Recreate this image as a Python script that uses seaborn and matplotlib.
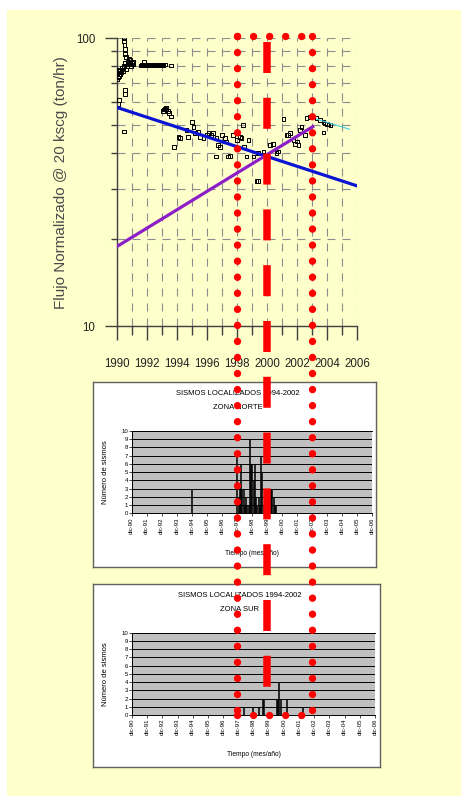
# Flujo normalizado vs. sismicidad (zona norte / zona sur)
import pandas as pd
import matplotlib
matplotlib.use("Agg")
import matplotlib.pyplot as plt
import matplotlib.transforms as mtransforms
from matplotlib.lines import Line2D
from matplotlib.patches import Rectangle
from matplotlib.ticker import MultipleLocator, FixedLocator, NullFormatter, FuncFormatter
from matplotlib import font_manager
import seaborn as sns

# -----------------------------
# Data: normalized flow (scatter)
# -----------------------------
flow_years = [
    1990.02, 1990.05, 1990.08, 1990.10, 1990.12, 1990.15, 1990.18, 1990.20,
    1990.25, 1990.30, 1990.35, 1990.40, 1990.45, 1990.45, 1990.48, 1990.50,
    1990.52, 1990.55, 1990.55, 1990.60, 1990.60, 1990.65, 1990.70, 1990.75,
    1990.80, 1990.85, 1990.90, 1990.95, 1991.00, 1991.05, 1991.10, 1990.53,
    1990.55, 1990.12, 1990.08, 1990.47, 1990.02,
    1991.60, 1991.68, 1991.75, 1991.80, 1991.82, 1991.90, 1991.97, 1992.05,
    1992.12, 1992.20, 1992.27, 1992.35, 1992.42, 1992.50, 1992.57, 1992.65,
    1992.72, 1992.80, 1992.87, 1992.95, 1993.02, 1993.10, 1993.18, 1993.60,
    1993.05, 1993.12, 1993.20, 1993.25, 1993.30, 1993.38, 1993.45, 1993.58,
    1993.82, 1994.09, 1994.20, 1994.64, 1994.75, 1994.98, 1995.10, 1995.20,
    1995.42, 1995.53, 1995.76, 1995.98, 1996.10, 1996.30, 1996.42, 1996.64,
    1996.75, 1996.87, 1996.60, 1996.98, 1997.20, 1997.30, 1997.42, 1997.53,
    1997.75, 1997.98, 1998.20, 1998.30, 1998.40, 1998.47, 1998.64, 1998.76,
    1999.09, 1999.31, 1999.42, 1999.42, 1999.76, 2000.20, 2000.42, 2000.64,
    2000.75, 2001.09, 2001.31, 2001.42, 2001.53, 2001.76, 2001.87, 2001.98,
    2002.10, 2002.20, 2002.31, 2002.53, 2002.64, 2002.87, 2003.31, 2003.53,
    2003.76, 2003.87, 2003.98, 2004.09, 2004.24, 2003.76,
]
flow_values = [
    75, 77, 73, 76, 74, 78, 75, 77,
    76, 78, 79, 77, 80, 98, 100, 95,
    92, 88, 82, 86, 78, 80, 83, 81,
    85, 82, 84, 80, 82, 81, 83, 66,
    64, 61, 59, 47.4, 72,
    80.5, 81, 80.5, 83, 80.5, 81, 80.5, 81,
    80.5, 80.5, 81, 80.5, 80.5, 81, 80.5, 80.5,
    81, 80.5, 80.5, 81, 80.5, 80.5, 81, 80.5,
    56, 56.5, 57, 57.5, 56.5, 56, 55, 53.5,
    42, 45.5, 45, 48, 45.5, 51.3, 49.3, 46.8,
    47.4, 45.5, 45, 46, 46.8, 46, 46.8, 45,
    42.5, 42, 38.8, 46, 45, 43.8, 38.8, 39,
    46, 44.4, 45.5, 45, 50, 42, 38.8, 44.4,
    38.8, 32, 31.9, 40, 40.4, 42.5, 43, 40,
    40.4, 52.3, 46, 46, 46.8, 44.4, 43, 43.8,
    42.5, 48, 49.3, 46, 52.7, 53.4, 52.7, 52,
    51.3, 50.6, 50.4, 50.2, 50, 47,
]

# trend lines (end points)
trend_down_years = [1990, 2006]
trend_down_values = [57.5, 30.7]
trend_up_years = [1990, 2003.05]
trend_up_values = [18.9, 49.3]
trend_recent_years = [2003.3, 2005.5]
trend_recent_values = [52.4, 48.3]

# marked years (red overlay)
window_years = [1998, 2003]
midline_year = 2000

# -----------------------------
# Data: located earthquakes (months after dic-90)
# -----------------------------
north_months = [48, 84, 85, 86, 87, 88, 89, 90, 91, 92, 93, 94, 95, 96, 97,
                98, 99, 100, 101, 102, 103, 104, 105, 106, 107, 108, 109,
                110, 111, 112, 113, 114, 115]
north_counts = [3, 7, 2, 3, 6, 3, 3, 1, 2, 1, 1, 9, 6, 6, 4,
                6, 2, 1, 2, 1, 7, 5, 1, 1, 2, 2, 3,
                3, 3, 3, 2, 1, 1]
south_months = [88, 95, 100, 103, 104, 114, 115, 116, 117, 122, 135]
south_counts = [1, 1, 1, 2, 2, 2, 2, 4, 2, 2, 1]

month_labels = ["dic-90", "dic-91", "dic-92", "dic-93", "dic-94", "dic-95",
                "dic-96", "dic-97", "dic-98", "dic-99", "dic-00", "dic-01",
                "dic-02", "dic-03", "dic-04", "dic-05", "dic-06"]

# -----------------------------
# Fonts
# -----------------------------
plt.rcParams["font.family"] = ["Liberation Sans", "DejaVu Sans"]
names = {f.name for f in font_manager.fontManager.ttflist}
if "Liberation Sans Narrow" in names:
    tick_font, tick_size = "Liberation Sans Narrow", 10
else:
    tick_font, tick_size = "Liberation Sans", 8.3

W, H = 461, 796
BG = "#ffffcc"

fig = plt.figure(figsize=(W / 100, H / 100), dpi=100)
fig.patch.set_facecolor("white")
fig.add_artist(Rectangle((7 / W, 0), 1, (H - 10) / H, transform=fig.transFigure,
                         facecolor=BG, edgecolor="none", zorder=-5))

# -----------------------------
# Top chart: flow
# -----------------------------
ax = fig.add_axes([117 / W, (H - 326) / H, 240 / W, 287.7 / H])
ax.set_facecolor("none")

sns.scatterplot(x=flow_years, y=flow_values, marker="s", s=7,
                facecolor="none", edgecolor="black", linewidth=0.7,
                ax=ax, zorder=3)
sns.lineplot(x=trend_down_years, y=trend_down_values, color="#0a14d2",
             lw=2.3, ax=ax, zorder=4)
sns.lineplot(x=trend_up_years, y=trend_up_values, color="#8c1ec8",
             lw=2.3, ax=ax, zorder=4)
sns.lineplot(x=trend_recent_years, y=trend_recent_values, color="#40d0e0",
             lw=0.8, ax=ax, zorder=4)

ax.set_yscale("log")
ax.set_xlim(1990, 2006)
ax.set_ylim(10, 100)
ax.xaxis.set_major_locator(MultipleLocator(2))
ax.xaxis.set_minor_locator(MultipleLocator(1))
ax.xaxis.set_major_formatter(FuncFormatter(lambda v, p: f"{int(round(v))}"))
ax.yaxis.set_major_locator(FixedLocator([10, 100]))
ax.yaxis.set_minor_locator(FixedLocator([20, 30, 40, 50, 60, 70, 80, 90]))
ax.yaxis.set_major_formatter(FuncFormatter(lambda v, p: f"{v:g}"))
ax.yaxis.set_minor_formatter(NullFormatter())

ax.grid(True, which="both", axis="both", color="#8c8c8c", lw=0.8,
        ls=(0, (7.2, 6.3)))
for s in ["top", "right"]:
    ax.spines[s].set_visible(False)
for s in ["left", "bottom"]:
    ax.spines[s].set_color("#404040")
    ax.spines[s].set_linewidth(1.0)

ax.tick_params(axis="x", which="major", length=10, width=1, color="#404040",
               pad=13, labelsize=tick_size, labelcolor="#222222",
               labelfontfamily=tick_font)
ax.tick_params(axis="x", which="minor", length=6.5, width=1, color="#404040")
ax.tick_params(axis="y", which="major", length=8.6, width=1, color="#404040",
               pad=7, labelsize=tick_size, labelcolor="#222222",
               labelfontfamily=tick_font)
ax.tick_params(axis="y", which="minor", length=4, width=1, color="#404040")
ax.set_xlabel("")
ax.set_ylabel("Flujo Normalizado @ 20 kscg (ton/hr)", fontsize=11,
              color="#4a4a4a")
ax.yaxis.set_label_coords(-0.204, 0.5)


# -----------------------------
# Bottom charts: earthquakes
# -----------------------------
def seismic_panel(box_rect, plot_rect, months, counts, zone):
    box = fig.add_axes(box_rect)
    box.set_xticks([])
    box.set_yticks([])
    box.set_facecolor("white")
    for s in box.spines.values():
        s.set_color("#606060")
        s.set_linewidth(1.0)
    box.text(0.51, 0.937, "SISMOS LOCALIZADOS 1994-2002", ha="center",
             va="center", fontsize=5.5, transform=box.transAxes)
    box.text(0.51, 0.863, zone, ha="center", va="center", fontsize=5.5,
             transform=box.transAxes)

    axb = fig.add_axes(plot_rect)
    axb.set_facecolor("#c0c0c0")
    df = pd.DataFrame({"fecha": [1991 + m / 12 for m in months],
                       "sismos": counts})
    sns.barplot(data=df, x="fecha", y="sismos", native_scale=True, width=0.9,
                color="black", saturation=1, errorbar=None, linewidth=0.4,
                edgecolor="black", ax=axb, zorder=3)
    axb.set_xlim(1991, 2007)
    axb.set_ylim(0, 10)
    axb.set_xticks(range(1991, 2008))
    axb.set_xticklabels(month_labels)
    axb.set_yticks(range(0, 11))
    axb.grid(True, axis="y", color="black", lw=0.7)
    axb.grid(False, axis="x")
    axb.set_axisbelow(True)
    axb.spines["right"].set_visible(False)
    for s in ["left", "bottom", "top"]:
        axb.spines[s].set_color("black")
        axb.spines[s].set_linewidth(0.7)
    axb.tick_params(axis="both", length=2, width=0.5, color="black",
                    labelsize=4.3, pad=0.8)
    axb.tick_params(axis="x", labelrotation=90)
    axb.set_xlabel("Tiempo (mes/año)", fontsize=4.8)
    axb.set_ylabel("Número de sismos", fontsize=5.5)
    axb.xaxis.set_label_coords(0.5, -0.44)
    axb.yaxis.set_label_coords(-0.096, 0.5)
    return axb


seismic_panel([93 / W, (H - 567) / H, 283 / W, 185 / H],
              [131.7 / W, (H - 513.3) / H, 240.3 / W, 82.3 / H],
              north_months, north_counts, "ZONA NORTE")
seismic_panel([93 / W, (H - 767) / H, 287 / W, 183 / H],
              [132 / W, (H - 715) / H, 243 / W, 82.3 / H],
              south_months, south_counts, "ZONA SUR")

# -----------------------------
# Red overlay marking 1998-2003 and 2000
# -----------------------------
trans = mtransforms.blended_transform_factory(ax.transData, fig.transFigure)
y_top, y_bot = (H - 36) / H, (H - 715) / H
dot_style = dict(transform=trans, color="red", lw=5.3, ls=(0, (0.01, 2.17)),
                 dash_capstyle="round", zorder=10)
for yr in window_years:
    fig.add_artist(Line2D([yr, yr], [y_top, y_bot], **dot_style))
fig.add_artist(Line2D(window_years, [y_top, y_top], **dot_style))
fig.add_artist(Line2D(window_years, [y_bot, y_bot], **dot_style))
fig.add_artist(Line2D([midline_year, midline_year],
                      [(H - 41.7) / H, (H - 687) / H], transform=trans,
                      color="red", lw=5.4, ls=(0, (4.13, 3.31)),
                      dash_capstyle="butt", zorder=10))

fig.savefig("out.png", dpi=100)
